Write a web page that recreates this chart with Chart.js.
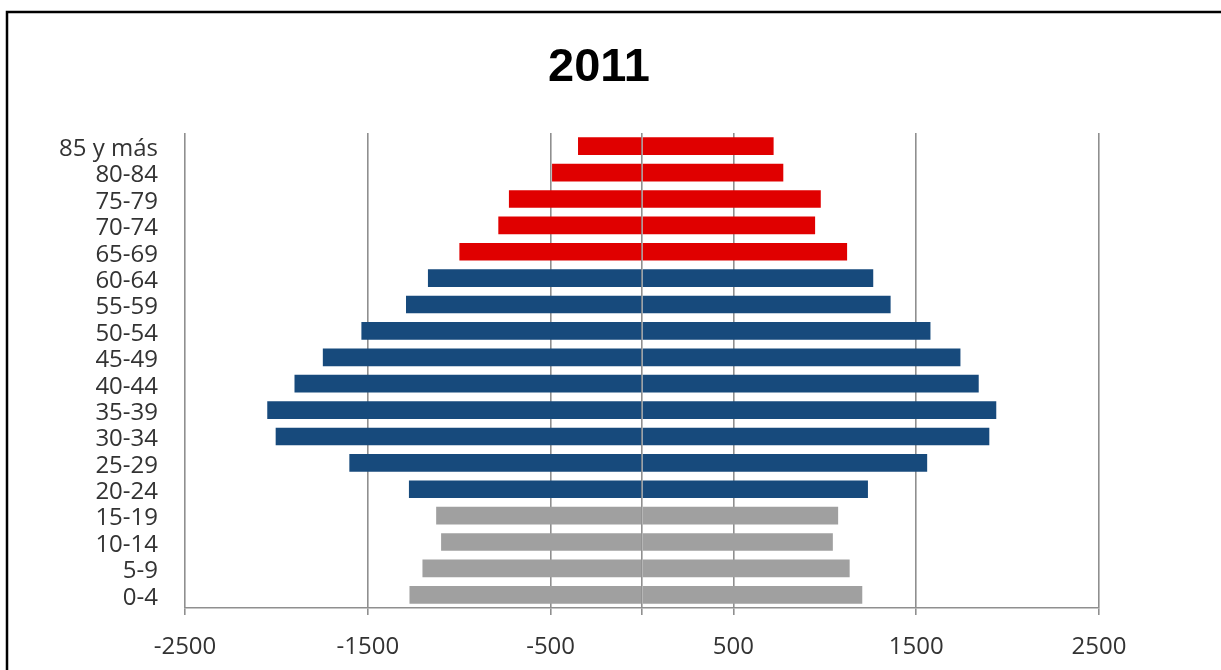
<!DOCTYPE html>
<html lang="es">
<head>
<meta charset="utf-8">
<title>Pirámide 2011</title>
<script src="https://cdn.jsdelivr.net/npm/chart.js@4/dist/chart.umd.min.js"></script>
<style>
  html, body { margin: 0; padding: 0; background: #fff; }
  #chart-pyramid { display: block; }
</style>
</head>
<body>
<canvas id="chart-pyramid" width="1221" height="670"></canvas>
<script>
/* Pirámide de población 2011 — barras horizontales a ambos lados del cero */

const TITLE = '2011';

const AGE_GROUPS = [
  '85 y más', '80-84', '75-79', '70-74', '65-69', '60-64', '55-59', '50-54', '45-49',
  '40-44', '35-39', '30-34', '25-29', '20-24', '15-19', '10-14', '5-9', '0-4'
];

// lado izquierdo (negativo) y lado derecho (positivo)
const LEFT_VALUES = [
  -350, -492, -728, -786, -999, -1171, -1291, -1535, -1746,
  -1901, -2050, -2004, -1601, -1275, -1126, -1099, -1201, -1272
];
const RIGHT_VALUES = [
  720, 773, 978, 947, 1122, 1265, 1360, 1578, 1742,
  1842, 1938, 1900, 1560, 1236, 1073, 1044, 1136, 1205
];

const X_TICKS = [-2500, -1500, -500, 0, 500, 1500, 2500];

const FONT = 'Open Sans';
const GRID = '#8f8f8f';

// color según la edad inicial del grupo
function groupColor(label) {
  const age = parseInt(label, 10);
  if (age >= 65) return '#e00000';
  if (age >= 20) return '#174a7c';
  return '#a0a0a0';
}

const barColors = AGE_GROUPS.map(groupColor);

// marco negro y título
const framePlugin = {
  id: 'frame',
  beforeDraw(chart) {
    const c = chart.ctx;
    c.save();
    c.fillStyle = '#fff';
    c.fillRect(0, 0, chart.width, chart.height);
    c.strokeStyle = '#000';
    c.lineWidth = 2.5;
    c.beginPath();
    c.moveTo(7, chart.height);
    c.lineTo(7, 12);
    c.lineTo(chart.width, 12);
    c.stroke();
    c.restore();
  },
  afterDraw(chart) {
    const c = chart.ctx;
    c.save();
    c.fillStyle = '#000';
    c.font = 'bold 47px "Liberation Sans"';
    c.textAlign = 'center';
    c.textBaseline = 'middle';
    c.fillText(TITLE, 599, 68);
    c.restore();
  }
};

const barCommon = {
  backgroundColor: barColors,
  borderWidth: 0,
  categoryPercentage: 1,
  barPercentage: 0.67
};

new Chart(document.getElementById('chart-pyramid'), {
  type: 'bar',
  data: {
    labels: AGE_GROUPS,
    datasets: [
      Object.assign({ label: 'izq', data: LEFT_VALUES }, barCommon),
      Object.assign({ label: 'der', data: RIGHT_VALUES }, barCommon)
    ]
  },
  options: {
    indexAxis: 'y',
    responsive: false,
    animation: false,
    layout: { padding: { left: 0, top: 133, right: 122, bottom: 0 } },
    plugins: {
      legend: { display: false },
      title: { display: false },
      tooltip: { enabled: false }
    },
    scales: {
      x: {
        stacked: true,
        min: -2500,
        max: 2500,
        afterBuildTicks: (scale) => { scale.ticks = X_TICKS.map(v => ({ value: v })); },
        afterFit: (scale) => { scale.height = 62; },
        grid: { color: GRID, lineWidth: 1.6, tickLength: 7, drawTicks: true },
        border: { color: GRID, width: 1.6 },
        ticks: {
          padding: 18,
          color: '#333',
          font: { family: FONT, size: 24 },
          callback: (v) => v === 0 ? '' : String(v)
        }
      },
      y: {
        stacked: true,
        afterFit: (scale) => { scale.width = 185; },
        grid: { display: false, drawTicks: false },
        border: { display: false },
        ticks: {
          autoSkip: false,
          padding: 27,
          labelOffset: 3,
          color: '#333',
          font: { family: FONT, size: 24, lineHeight: 1 }
        }
      }
    }
  },
  plugins: [framePlugin]
});
</script>
</body>
</html>
